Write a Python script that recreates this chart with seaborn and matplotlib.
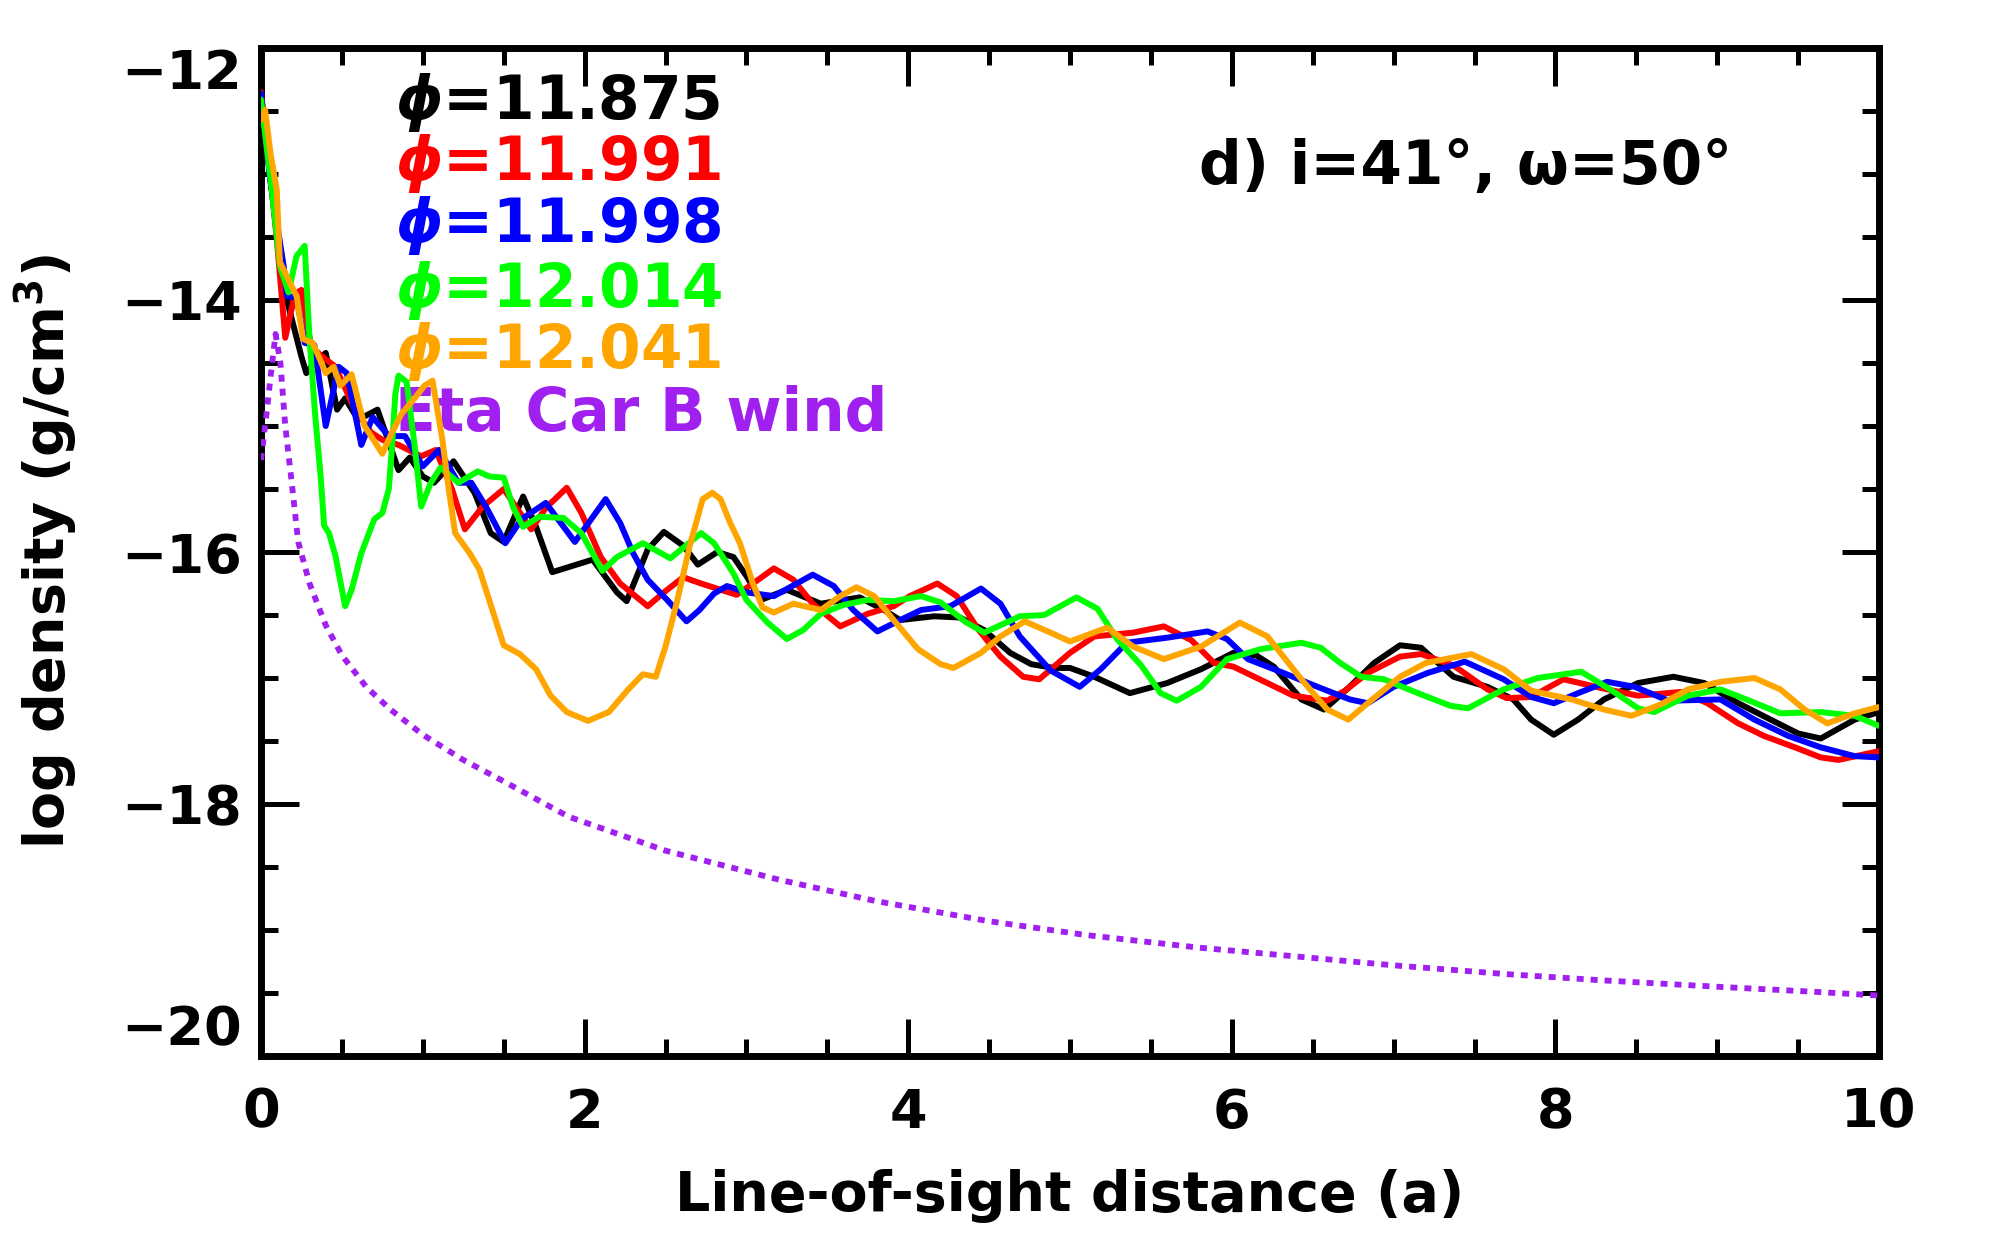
import matplotlib
matplotlib.use("Agg")
import matplotlib.pyplot as plt
import seaborn as sns
import pandas as pd
from matplotlib.ticker import MultipleLocator, FixedLocator

# ---------------- data ----------------
x_black = [0.00, 0.05, 0.10, 0.15, 0.20, 0.25, 0.28, 0.33, 0.40, 0.47, 0.52, 0.60, 0.72, 0.85, 0.92,
           1.00, 1.07, 1.19, 1.32, 1.42, 1.50, 1.62, 1.70, 1.80, 1.95, 2.05, 2.20, 2.26, 2.39, 2.49,
           2.61, 2.70, 2.82, 2.92, 3.00, 3.09, 3.25, 3.46, 3.70, 3.85, 3.95, 4.16, 4.32, 4.47, 4.63,
           4.76, 4.90, 5.00, 5.15, 5.37, 5.60, 5.81, 6.01, 6.15, 6.26, 6.43, 6.57, 6.72, 6.88, 7.04,
           7.17, 7.37, 7.58, 7.74, 7.85, 7.99, 8.14, 8.30, 8.51, 8.73, 8.92, 9.13, 9.33, 9.50, 9.64,
           9.85, 10.0]
y_black = [-12.40, -12.95, -13.50, -13.95, -14.20, -14.45, -14.58, -14.50, -14.42, -14.87, -14.78, -14.95, -14.87, -15.35, -15.25,
           -15.40, -15.45, -15.28, -15.53, -15.85, -15.92, -15.56, -15.80, -16.16, -16.10, -16.06, -16.32, -16.39, -15.98, -15.84,
           -15.95, -16.10, -16.00, -16.04, -16.19, -16.38, -16.30, -16.41, -16.36, -16.46, -16.54, -16.51, -16.52, -16.62, -16.80,
           -16.89, -16.92, -16.92, -16.99, -17.12, -17.04, -16.93, -16.80, -16.82, -16.91, -17.17, -17.25, -17.08, -16.88, -16.74,
           -16.76, -16.99, -17.07, -17.17, -17.33, -17.45, -17.33, -17.17, -17.04, -16.99, -17.04, -17.20, -17.33, -17.44, -17.48,
           -17.33, -17.27]

x_red = [0.00, 0.05, 0.10, 0.15, 0.21, 0.25, 0.31, 0.38, 0.46, 0.58, 0.68, 0.75, 0.85, 0.99, 1.08,
         1.18, 1.26, 1.37, 1.50, 1.58, 1.67, 1.76, 1.89, 1.98, 2.10, 2.22, 2.39, 2.51, 2.61, 2.72,
         2.94, 3.04, 3.17, 3.29, 3.41, 3.58, 3.75, 3.91, 4.01, 4.18, 4.30, 4.43, 4.57, 4.71, 4.81,
         5.00, 5.15, 5.39, 5.58, 5.75, 5.89, 6.01, 6.22, 6.38, 6.59, 6.70, 6.84, 7.04, 7.17, 7.37,
         7.58, 7.70, 7.85, 8.05, 8.32, 8.51, 8.78, 8.94, 9.13, 9.29, 9.48, 9.64, 9.75, 10.0]
y_red = [-12.35, -12.90, -13.55, -14.30, -13.95, -13.92, -14.37, -14.45, -14.53, -14.87, -15.05, -15.11, -15.15, -15.24, -15.19,
         -15.50, -15.82, -15.64, -15.50, -15.65, -15.82, -15.65, -15.49, -15.69, -16.04, -16.25, -16.43, -16.30, -16.20, -16.25,
         -16.34, -16.25, -16.13, -16.22, -16.41, -16.59, -16.49, -16.43, -16.35, -16.25, -16.35, -16.61, -16.83, -16.99, -17.01,
         -16.80, -16.67, -16.64, -16.59, -16.70, -16.88, -16.91, -17.04, -17.14, -17.18, -17.10, -16.96, -16.83, -16.81, -16.90,
         -17.09, -17.16, -17.15, -17.01, -17.09, -17.14, -17.11, -17.20, -17.36, -17.46, -17.55, -17.63, -17.65, -17.58]

x_blue = [0.00, 0.056, 0.10, 0.14, 0.16, 0.22, 0.27, 0.33, 0.40, 0.48, 0.53, 0.62, 0.69, 0.79, 0.89,
          1.00, 1.10, 1.22, 1.30, 1.39, 1.51, 1.61, 1.76, 1.94, 2.13, 2.22, 2.30, 2.39, 2.51, 2.63,
          2.71, 2.80, 2.88, 3.00, 3.17, 3.41, 3.54, 3.66, 3.81, 3.95, 4.08, 4.26, 4.45, 4.57, 4.69,
          4.88, 5.06, 5.19, 5.35, 5.60, 5.85, 5.97, 6.10, 6.32, 6.53, 6.73, 6.84, 7.00, 7.21, 7.44,
          7.68, 7.85, 7.99, 8.14, 8.32, 8.49, 8.70, 9.02, 9.23, 9.44, 9.64, 9.85, 10.0]
y_blue = [-12.36, -13.04, -13.40, -13.73, -13.97, -13.98, -14.34, -14.36, -15.00, -14.53, -14.58, -15.15, -14.93, -15.08, -15.08,
          -15.32, -15.19, -15.45, -15.45, -15.64, -15.93, -15.74, -15.61, -15.92, -15.58, -15.77, -16.01, -16.22, -16.38, -16.55,
          -16.46, -16.33, -16.27, -16.32, -16.35, -16.18, -16.27, -16.46, -16.63, -16.54, -16.46, -16.43, -16.29, -16.41, -16.67,
          -16.94, -17.07, -16.93, -16.72, -16.68, -16.63, -16.69, -16.85, -16.96, -17.07, -17.17, -17.20, -17.07, -16.96, -16.87,
          -17.01, -17.15, -17.20, -17.12, -17.03, -17.07, -17.18, -17.17, -17.33, -17.46, -17.55, -17.62, -17.63]

x_green = [0.00, 0.066, 0.117, 0.17, 0.22, 0.27, 0.30, 0.334, 0.37, 0.39, 0.42, 0.46, 0.52, 0.56, 0.62,
           0.70, 0.75, 0.79, 0.81, 0.83, 0.85, 0.90, 0.95, 0.99, 1.05, 1.11, 1.22, 1.34, 1.41, 1.50,
           1.56, 1.62, 1.72, 1.87, 1.98, 2.11, 2.20, 2.36, 2.53, 2.72, 2.80, 2.92, 3.00, 3.13, 3.25,
           3.35, 3.46, 3.60, 3.75, 3.91, 4.08, 4.20, 4.36, 4.47, 4.69, 4.84, 5.04, 5.17, 5.29, 5.44,
           5.56, 5.66, 5.81, 5.97, 6.18, 6.43, 6.55, 6.67, 6.80, 6.94, 7.15, 7.35, 7.46, 7.68, 7.89,
           8.16, 8.35, 8.51, 8.61, 8.82, 9.02, 9.20, 9.39, 9.64, 9.85, 10.0]
y_green = [-12.41, -13.12, -13.73, -13.94, -13.65, -13.57, -14.31, -14.90, -15.42, -15.79, -15.85, -16.03, -16.43, -16.30, -16.01,
           -15.74, -15.69, -15.50, -15.16, -14.75, -14.60, -14.65, -15.16, -15.64, -15.45, -15.33, -15.45, -15.36, -15.40, -15.41,
           -15.65, -15.80, -15.72, -15.73, -15.85, -16.15, -16.04, -15.93, -16.05, -15.85, -15.93, -16.17, -16.38, -16.56, -16.69,
           -16.62, -16.49, -16.42, -16.38, -16.39, -16.35, -16.40, -16.56, -16.64, -16.51, -16.50, -16.36, -16.45, -16.69, -16.90,
           -17.12, -17.18, -17.07, -16.85, -16.77, -16.72, -16.76, -16.88, -16.99, -17.01, -17.12, -17.22, -17.24, -17.09, -17.00,
           -16.95, -17.10, -17.24, -17.27, -17.14, -17.09, -17.18, -17.28, -17.27, -17.30, -17.38]

x_orange = [0.00, 0.025, 0.06, 0.097, 0.117, 0.17, 0.22, 0.26, 0.32, 0.40, 0.45, 0.49, 0.56, 0.64, 0.75,
            0.81, 0.87, 0.95, 1.01, 1.06, 1.12, 1.16, 1.20, 1.29, 1.35, 1.42, 1.50, 1.60, 1.70, 1.79,
            1.89, 2.02, 2.15, 2.27, 2.36, 2.44, 2.50, 2.57, 2.65, 2.73, 2.79, 2.84, 2.90, 2.96, 3.04,
            3.10, 3.17, 3.29, 3.46, 3.58, 3.68, 3.79, 3.91, 4.06, 4.20, 4.28, 4.45, 4.57, 4.72, 4.88,
            5.00, 5.23, 5.39, 5.58, 5.81, 6.05, 6.22, 6.43, 6.59, 6.72, 6.84, 7.04, 7.20, 7.48, 7.68,
            7.85, 8.10, 8.30, 8.47, 8.65, 8.82, 9.02, 9.23, 9.39, 9.54, 9.68, 9.85, 10.0]
y_orange = [-12.57, -12.49, -12.85, -13.12, -13.70, -13.84, -13.97, -14.31, -14.34, -14.58, -14.53, -14.68, -14.59, -15.00, -15.22,
            -15.05, -14.90, -14.78, -14.68, -14.64, -15.10, -15.50, -15.85, -16.01, -16.14, -16.42, -16.74, -16.81, -16.93, -17.14,
            -17.27, -17.34, -17.27, -17.09, -16.97, -16.99, -16.75, -16.40, -15.95, -15.58, -15.53, -15.58, -15.77, -15.93, -16.25,
            -16.44, -16.48, -16.41, -16.46, -16.35, -16.28, -16.35, -16.54, -16.77, -16.89, -16.92, -16.80, -16.67, -16.55, -16.64,
            -16.71, -16.60, -16.75, -16.85, -16.75, -16.56, -16.67, -17.01, -17.25, -17.33, -17.20, -16.99, -16.88, -16.81, -16.93,
            -17.10, -17.17, -17.25, -17.30, -17.21, -17.09, -17.03, -17.00, -17.09, -17.25, -17.36, -17.28, -17.23]

x_wind = [0.0, 0.03, 0.06, 0.09, 0.12, 0.15, 0.19, 0.23, 0.30, 0.40, 0.50, 0.65, 0.80, 1.00, 1.25,
          1.50, 1.90, 2.50, 3.20, 3.80, 4.50, 5.10, 5.80, 6.40, 7.00, 7.70, 8.30, 9.00, 9.60, 10.0]
y_wind = [-15.27, -14.95, -14.60, -14.27, -14.50, -15.00, -15.45, -15.92, -16.25, -16.58, -16.82, -17.07, -17.25, -17.45, -17.65,
          -17.82, -18.10, -18.37, -18.60, -18.77, -18.93, -19.04, -19.14, -19.21, -19.28, -19.35, -19.40, -19.45, -19.49, -19.52]

labels = ["11.875", "11.991", "11.998", "12.014", "12.041"]
colors = ["black", "#FF0000", "#0000FF", "#00FF00", "#FFA500"]
wind_label = "Eta Car B wind"
wind_color = "#A020F0"
x_ticks = [0, 2, 4, 6, 8, 10]
y_ticks = [-20, -18, -16, -14, -12]

# ---------------- figure ----------------
sns.set_style("ticks")
plt.rcParams['font.family'] = ['DejaVu Sans']
plt.rcParams['font.weight'] = 'bold'
plt.rcParams['mathtext.fontset'] = 'custom'
plt.rcParams['mathtext.rm'] = 'DejaVu Sans:bold'
plt.rcParams['mathtext.it'] = 'DejaVu Sans:italic:bold'
plt.rcParams['mathtext.bf'] = 'DejaVu Sans:bold'
for k in ['text.color', 'axes.labelcolor', 'xtick.color', 'ytick.color', 'axes.edgecolor']:
    plt.rcParams[k] = 'black'

fig = plt.figure(figsize=(20, 12.43), dpi=100)
ax = fig.add_axes([0.1305, 0.1504, 0.809, 0.811])

series = [(x_black, y_black), (x_red, y_red), (x_blue, y_blue), (x_green, y_green), (x_orange, y_orange)]
for (xs, ys), c in zip(series, colors):
    df = pd.DataFrame({"x": xs, "y": ys})
    sns.lineplot(data=df, x="x", y="y", color=c, lw=4.3, ax=ax, sort=False,
                 estimator=None, zorder=3)

dfw = pd.DataFrame({"x": x_wind, "y": y_wind})
sns.lineplot(data=dfw, x="x", y="y", color=wind_color, lw=4.2, ax=ax, sort=False,
             estimator=None, linestyle=(0, (1.2, 1.2)), zorder=4)

ax.set_xlim(0, 10)
ax.set_ylim(-20, -12)
ax.xaxis.set_major_locator(FixedLocator(x_ticks))
ax.yaxis.set_major_locator(FixedLocator(y_ticks))
ax.xaxis.set_minor_locator(MultipleLocator(0.5))
ax.yaxis.set_minor_locator(MultipleLocator(0.5))
ax.set_xticklabels([str(t) for t in x_ticks], fontweight='bold')
ax.set_yticklabels(["\u2212" + str(abs(t)) for t in y_ticks], fontweight='bold')

ax.tick_params(which='both', direction='in', top=True, right=True, width=3.6, color='black')
ax.tick_params(which='major', length=27, labelsize=39)
ax.tick_params(which='minor', length=12)
ax.tick_params(axis='x', which='major', pad=22)
ax.tick_params(axis='y', which='major', pad=14)
for s in ax.spines.values():
    s.set_linewidth(5)
    s.set_color('black')

yt = ax.yaxis.get_major_ticks()
yt[0].label1.set_va('bottom')
yt[-1].label1.set_va('top')

ax.set_xlabel("Line-of-sight distance (a)", fontsize=40, fontweight='bold')
ax.set_ylabel("log density (g/cm$^3$)", fontsize=40, fontweight='bold')
ax.xaxis.set_label_coords(0.5, -0.112)
ax.yaxis.set_label_coords(-0.112, 0.5)

fracs = [0.946, 0.886, 0.824, 0.760, 0.699]
for lab, c, fy in zip(labels, colors, fracs):
    ax.text(0.083, fy, r"$\phi$=" + lab, transform=ax.transAxes, color=c,
            fontsize=43, fontweight='bold', va='center', ha='left', zorder=2)
ax.text(0.083, 0.636, wind_label, transform=ax.transAxes, color=wind_color,
        fontsize=43, fontweight='bold', va='center', ha='left', zorder=2)

ax.text(0.58, 0.881, "d) i=41\u00b0, \u03c9=50\u00b0", transform=ax.transAxes,
        color='black', fontsize=43, fontweight='bold', va='center', ha='left')

fig.savefig("out.png", dpi=100)
